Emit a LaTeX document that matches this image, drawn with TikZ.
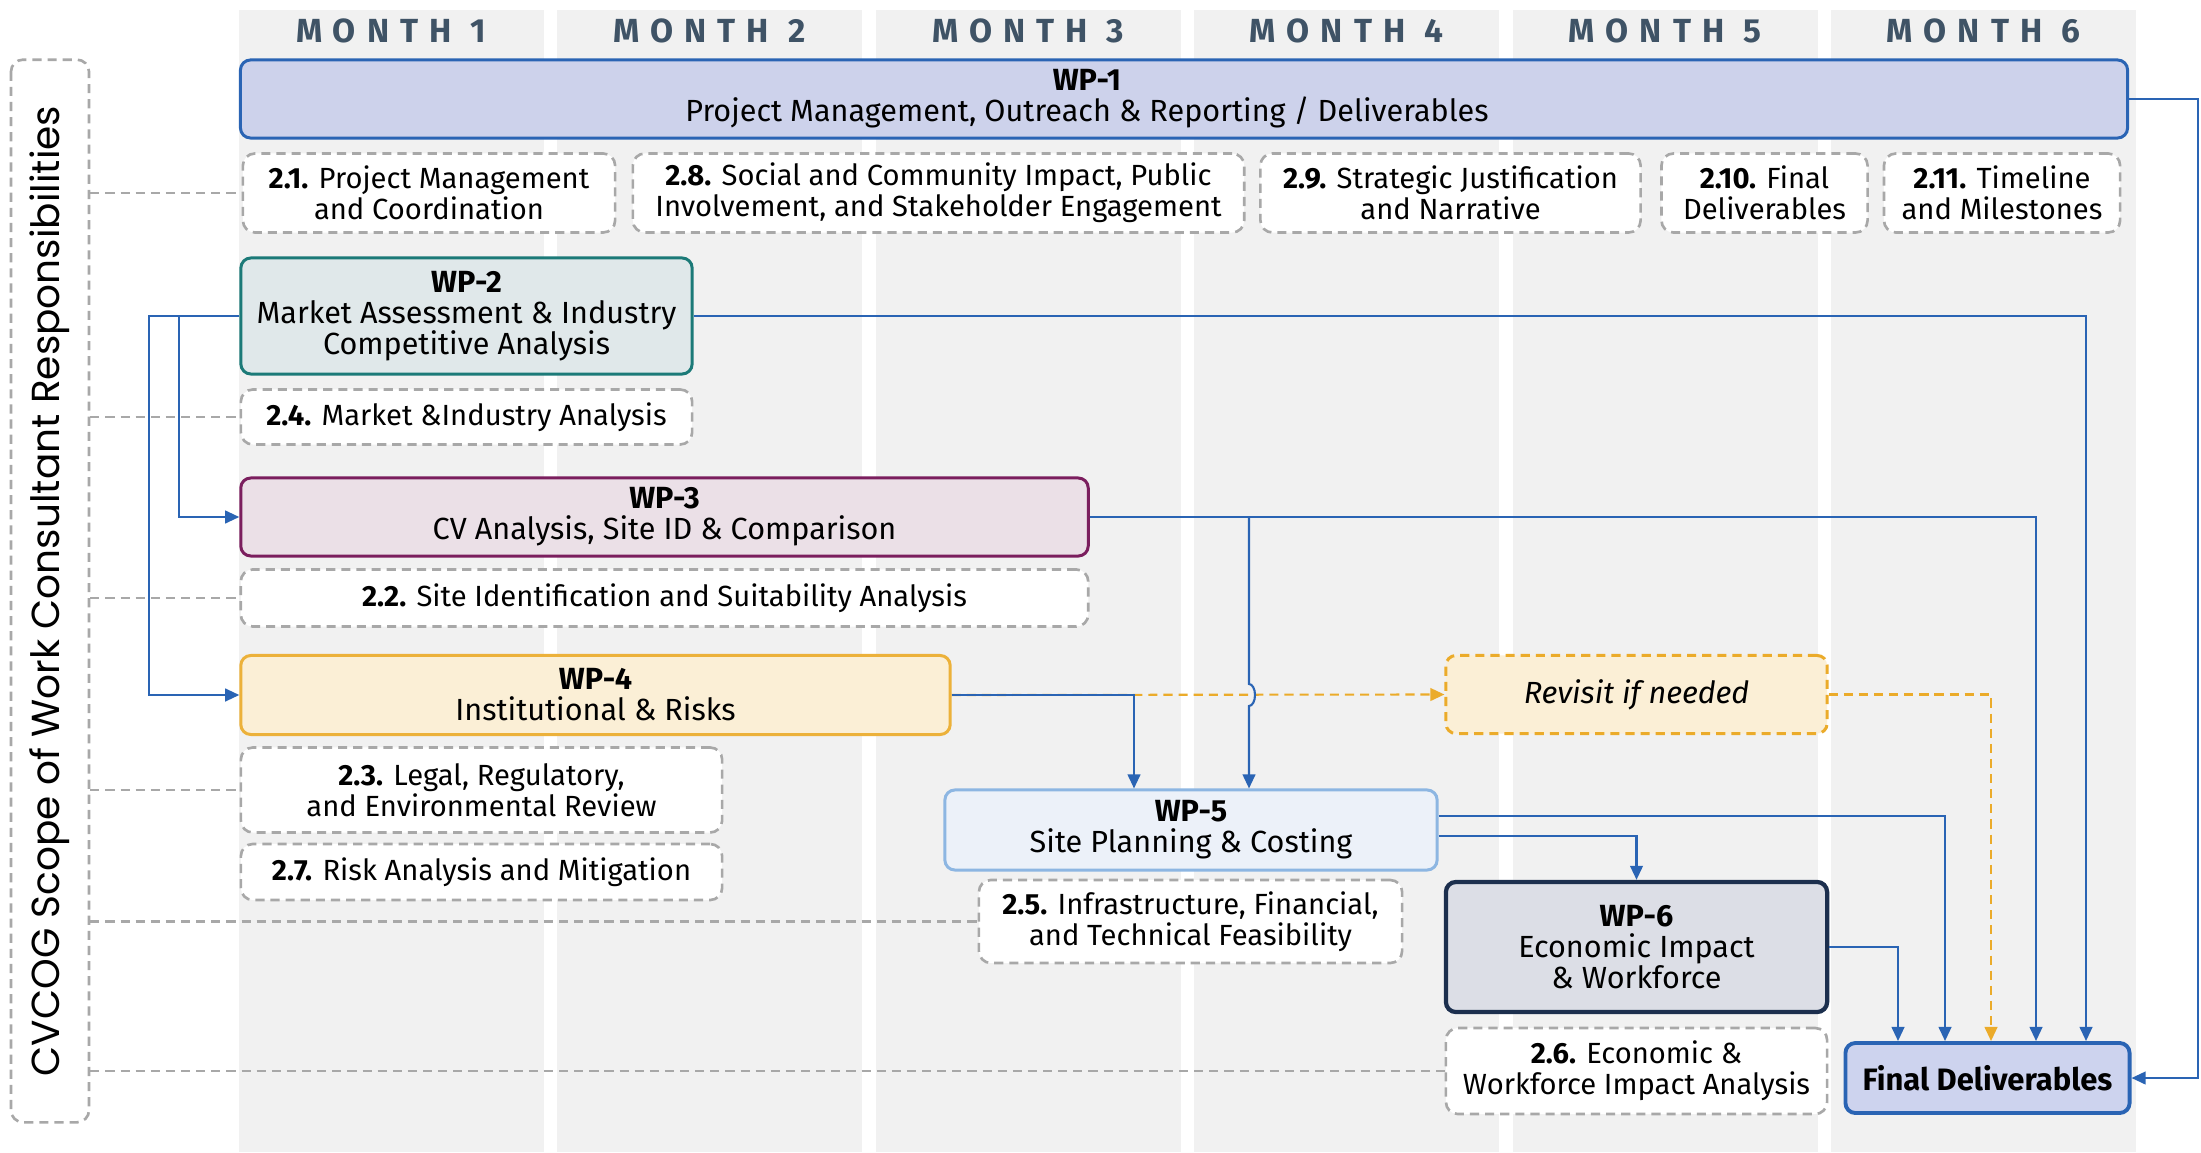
\documentclass[tikz,border=0pt]{standalone}
\usepackage{fontspec}
\setmainfont{Fira Sans}
\newfontfamily\monthfont[LetterSpace=33]{Fira Sans}
\newfontfamily\scopefont{Poppins}
\usetikzlibrary{positioning,calc,arrows.meta}

\definecolor{colgray}{HTML}{F1F1F1}
\definecolor{monthtxt}{HTML}{3F5366}
\definecolor{flowblue}{HTML}{2A64B4}
\definecolor{dashgray}{HTML}{A8A8A8}
\definecolor{wpone}{HTML}{CDD2EB}
\definecolor{wptwo}{HTML}{E0E8EA}
\definecolor{wptwoline}{HTML}{1C7A78}
\definecolor{wpthree}{HTML}{EBE0E7}
\definecolor{wpthreeline}{HTML}{7B1E5E}
\definecolor{wpfour}{HTML}{FBEFD6}
\definecolor{wpfourline}{HTML}{ECB13A}
\definecolor{wpfive}{HTML}{ECF1F9}
\definecolor{wpfiveline}{HTML}{8DB6E2}
\definecolor{wpsix}{HTML}{DCDEE6}
\definecolor{wpsixline}{HTML}{1C2F4E}
\definecolor{finalfill}{HTML}{CDD3EE}
\definecolor{revisitline}{HTML}{EBAB2A}

\tikzset{
    wp/.style={draw, rounded corners=0.1cm, line width=0.85pt, align=center, inner sep=0pt,
        font=\fontsize{8.7}{8.8}\selectfont},
    task/.style={draw=dashgray, dash pattern=on 2.6pt off 1.7pt, line width=0.75pt, fill=white,
        rounded corners=0.12cm, align=center, inner sep=0pt, font=\fontsize{8.3}{8.8}\selectfont},
    link/.style={draw=dashgray, dash pattern=on 2.6pt off 1.7pt, line width=0.75pt},
    flow/.style={draw=flowblue, line width=0.6pt, -{Triangle[length=4pt,width=3.6pt]}},
    revisitflow/.style={draw=revisitline, dash pattern=on 2.6pt off 1.7pt, line width=0.6pt,
        -{Triangle[length=4pt,width=3.6pt]}},
    monthlbl/.style={font=\monthfont\bfseries\fontsize{9.5}{10}\selectfont, text=monthtxt},
}

\begin{document}
\begin{tikzpicture}[x=0.01cm, y=-0.01cm]
    \fill[white] (0,0) rectangle (2201,1152);
    \useasboundingbox (0,0) rectangle (2201,1152);

    % month columns
    \foreach \i in {1,...,6} {
        \fill[colgray] ({238.5+(\i-1)*318.5},10) rectangle ++(305,1142);
        \node[monthlbl] (m\i) at ({391+(\i-1)*318.5},31) {MONTH \i};
    }

    % scope box
    \node[task, rotate=90, minimum width=10.62cm, minimum height=0.78cm,
        font=\scopefont\fontsize{11.1}{13}\selectfont] (scope) at (50,591)
        {CVCOG Scope of Work Consultant Responsibilities};

    % work packages
    \node[wp, fill=wpone, draw=flowblue, minimum width=18.86cm, minimum height=0.78cm] (wp1) at (1184,99) {};
    \node[align=center, inner sep=0pt, font=\fontsize{8.7}{8.8}\selectfont] (wp1txt) at ([xshift=-0.97cm]wp1.center)
        {\textbf{WP-1}\\Project Management, Outreach \& Reporting / Deliverables};
    \node[wp, fill=wptwo, draw=wptwoline, minimum width=4.51cm, minimum height=1.16cm] (wp2) at (466.5,316)
        {\textbf{WP-2}\\Market Assessment \& Industry\\Competitive Analysis};
    \node[wp, fill=wpthree, draw=wpthreeline, minimum width=8.47cm, minimum height=0.78cm] (wp3) at (664.5,517)
        {\textbf{WP-3}\\CV Analysis, Site ID \& Comparison};
    \node[wp, fill=wpfour, draw=wpfourline, minimum width=7.09cm, minimum height=0.79cm] (wp4) at (595.5,695)
        {\textbf{WP-4}\\Institutional \& Risks};
    \node[wp, fill=wpfive, draw=wpfiveline, minimum width=4.92cm, minimum height=0.80cm] (wp5) at (1191,830)
        {\textbf{WP-5}\\Site Planning \& Costing};
    \node[wp, fill=wpsix, draw=wpsixline, line width=1.2pt, minimum width=3.81cm, minimum height=1.30cm] (wp6) at (1636.5,947)
        {\textbf{WP-6}\\Economic Impact\\\& Workforce};
    \node[wp, fill=wpfour, draw=revisitline, dash pattern=on 2.6pt off 1.7pt, minimum width=3.81cm, minimum height=0.78cm]
        (revisit) at (1636.5,694.5) {\itshape Revisit if needed};
    \node[wp, fill=finalfill, draw=flowblue, line width=1.1pt, minimum width=2.84cm, minimum height=0.70cm,
        font=\bfseries\fontsize{8.8}{10}\selectfont] (final) at (1987.5,1078) {Final Deliverables};

    % tasks
    \node[task, minimum width=3.72cm, minimum height=0.79cm] (t21) at (429,193)
        {\textbf{2.1.} Project Management\\and Coordination};
    \node[task, minimum width=6.11cm, minimum height=0.79cm] (t28) at (938.5,193)
        {\textbf{2.8.} Social and Community Impact, Public\\Involvement, and Stakeholder Engagement};
    \node[task, minimum width=3.80cm, minimum height=0.79cm] (t29) at (1450.5,193)
        {\textbf{2.9.} Strategic Justification\\and Narrative};
    \node[task, minimum width=2.06cm, minimum height=0.79cm] (t210) at (1764.5,193)
        {\textbf{2.10.} Final\\Deliverables};
    \node[task, minimum width=2.36cm, minimum height=0.79cm] (t211) at (2002,193)
        {\textbf{2.11.} Timeline\\and Milestones};
    \node[task, minimum width=4.51cm, minimum height=0.55cm] (t24) at (466.5,417)
        {\textbf{2.4.} Market \&Industry Analysis};
    \node[task, minimum width=8.47cm, minimum height=0.57cm] (t22) at (664.5,598)
        {\textbf{2.2.} Site Identification and Suitability Analysis};
    \node[task, minimum width=4.81cm, minimum height=0.85cm] (t23) at (481.5,790)
        {\textbf{2.3.} Legal, Regulatory,\\and Environmental Review};
    \node[task, minimum width=4.81cm, minimum height=0.56cm] (t27) at (481.5,872)
        {\textbf{2.7.} Risk Analysis and Mitigation};
    \node[task, minimum width=4.23cm, minimum height=0.83cm] (t25) at (1190.5,921.5)
        {\textbf{2.5.} Infrastructure, Financial,\\and Technical Feasibility};
    \node[task, minimum width=3.81cm, minimum height=0.86cm] (t26) at (1636.5,1071)
        {\textbf{2.6.} Economic \&\\Workforce Impact Analysis};

    % scope links
    \foreach \t in {t21,t24,t22,t23,t25,t26}
        \draw[link] (scope.south |- \t.west) -- (\t.west);

    % turning points
    \coordinate (l1) at (149,0);
    \coordinate (l2) at (179,0);
    \coordinate (c4) at (1134,0);
    \coordinate (c3) at (1249,0);
    \coordinate (d1) at (1898,0);
    \coordinate (d2) at (1945,0);
    \coordinate (d3) at (1991,0);
    \coordinate (d4) at (2036,0);
    \coordinate (d5) at (2086,0);
    \coordinate (rt) at (2198,0);
    \coordinate (hop) at (c3 |- wp4.east);

    % revisit loop
    \draw[revisitflow] (wp4.east) -- (revisit.west);
    \draw[revisitflow] (revisit.east) -| (d3 |- final.north);

    % flows
    \draw[flow] (wp1.east) -| (rt |- final.east) -- (final.east);
    \draw[flow] (wp2.west) -| (l1 |- wp4.west) -- (wp4.west);
    \draw[flow] (wp2.west) -| (l2 |- wp3.west) -- (wp3.west);
    \draw[flow] (wp2.east) -| (d5 |- final.north);
    \draw[flow] (wp3.east) -| (d4 |- final.north);
    \draw[flow] (c3 |- wp3.east) -- ([yshift=0.11cm]hop)
        arc[start angle=90, end angle=-90, x radius=0.06cm, y radius=0.11cm] -- (c3 |- wp5.north);
    \draw[flow] (wp4.east) -| (c4 |- wp5.north);
    \draw[flow] ([yshift=0.14cm]wp5.east) -| (d2 |- final.north);
    \draw[flow] ([yshift=-0.06cm]wp5.east) -| (wp6.north);
    \draw[flow] (wp6.east) -| (d1 |- final.north);
\end{tikzpicture}
\end{document}
